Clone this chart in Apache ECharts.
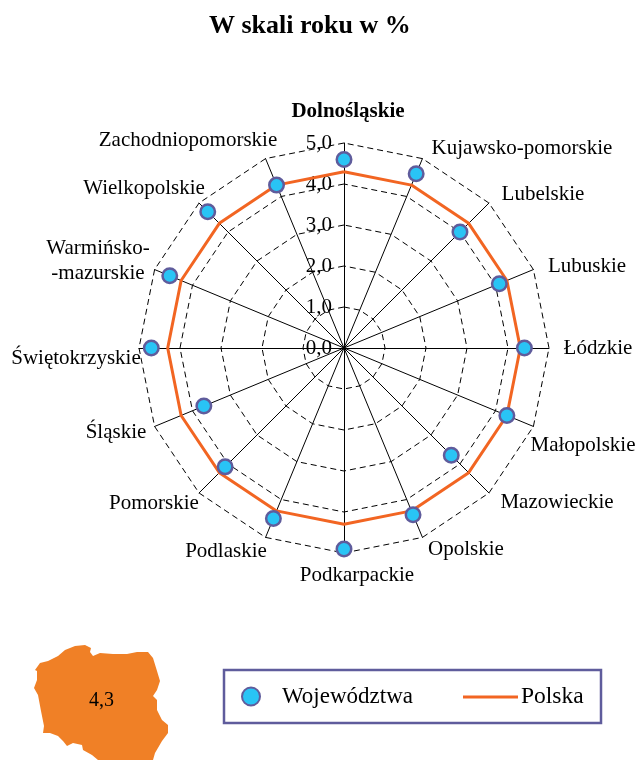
<!DOCTYPE html>
<html><head><meta charset="utf-8">
<style>html,body{margin:0;padding:0;background:#fff}#c{width:639px;height:760px}</style>
<script src="https://cdn.jsdelivr.net/npm/echarts@6/dist/echarts.min.js"></script>
</head><body><div id="c"></div>
<script>
var categories=['Dolnośląskie','Kujawsko-pomorskie','Lubelskie','Lubuskie','Łódzkie','Małopolskie','Mazowieckie','Opolskie','Podkarpackie','Podlaskie','Pomorskie','Śląskie','Świętokrzyskie','Warmińsko-\n-mazurskie','Wielkopolskie','Zachodniopomorskie'];
var wojewodztwa=[4.6,4.6,4.0,4.1,4.4,4.3,3.7,4.4,4.9,4.5,4.1,3.7,4.7,4.6,4.7,4.3];
var polska=[4.3,4.3,4.3,4.3,4.3,4.3,4.3,4.3,4.3,4.3,4.3,4.3,4.3,4.3,4.3,4.3];
var polskaValue='4,3';
var labelPos=[[348,112],[522,148],[543,194],[587,266],[598,348],[583,445],[557,502],[466,549],[357,575],[226,551],[154,503],[116,432],[76,358],[98,261],[144,188],[188,140]];
var poland=[[35,670],[40,663],[48,661],[58,656],[65,650],[75,646],[85,645],[91,648],[90,652],[93,656],[100,653],[113,654],[127,654],[137,652],[148,652],[153,658],[157,671],[160,681],[157,690],[153,696],[157,700],[157,710],[162,720],[168,725],[168,733],[162,741],[155,753],[153,760],[110,760],[105,760],[98,760],[92,755],[83,750],[82,745],[73,743],[67,746],[63,741],[58,736],[50,733],[43,733],[44,726],[41,711],[38,695],[34,688],[37,680],[37,671]];
// ECharts radar runs counter-clockwise: keep first axis on top, reverse the others
function ccw(a){return [a[0]].concat(a.slice(1).reverse());}
var chart=echarts.init(document.getElementById('c'));
var font='"Liberation Serif"';
var graphics=[
 {type:'polygon',shape:{points:poland},style:{fill:'#f08026'},z:1},
 {type:'text',x:101.5,y:701,style:{text:polskaValue,font:'20px '+font,fill:'#000',align:'center',verticalAlign:'middle'},z:2},
 {type:'rect',shape:{x:224,y:670,width:377,height:53},style:{fill:'none',stroke:'#5f5c9c',lineWidth:2.5},z:1}
];
categories.forEach(function(c,i){graphics.push({type:'text',x:labelPos[i][0],y:labelPos[i][1],style:{text:c,font:(i===0?'bold ':'')+'21px '+font,fill:'#000',align:'center',verticalAlign:'middle',lineHeight:25},z:5});});
chart.setOption({
 animation:false,backgroundColor:'#fff',
 title:{text:'W skali roku w %',left:204,top:8,itemGap:0,textStyle:{fontFamily:font,fontWeight:'bold',fontSize:26,color:'#000'}},
 legend:[
  {data:[{name:'Województwa',icon:'circle'}],left:241,top:685,itemWidth:18,itemHeight:18,itemGap:0,padding:0,selectedMode:false,textStyle:{fontFamily:font,fontSize:23,color:'#000',padding:[0,0,0,17]}},
  {data:[{name:'Polska',icon:'rect'}],left:463,top:685,itemWidth:55,itemHeight:3,padding:0,selectedMode:false,textStyle:{fontFamily:font,fontSize:23.5,color:'#000',padding:[0,0,0,-2]}}
 ],
 radar:{center:[344,348],radius:205,startAngle:90,splitNumber:5,shape:'polygon',
  axisName:{show:false},
  indicator:ccw(categories).map(function(c,i){var o={name:c,min:0,max:5};
   if(i===0){o.axisLabel={show:true,formatter:function(v){return v.toFixed(1).replace('.',',');},fontFamily:font,fontSize:21,color:'#000',margin:12};}
   return o;}),
  splitArea:{show:false},
  axisLine:{show:true,lineStyle:{color:'#000',width:1}},
  axisTick:{show:false},
  splitLine:{show:true,lineStyle:{color:'#000',width:1,type:[6,4]}}
 },
 series:[
  {type:'radar',name:'Polska',z:3,symbol:'none',lineStyle:{color:'#f26522',width:3},itemStyle:{color:'#f26522'},data:[{value:ccw(polska),name:'Polska'}]},
  {type:'radar',name:'Województwa',z:4,symbol:'circle',symbolSize:14.5,lineStyle:{width:0,opacity:0},itemStyle:{color:'#29c4f5',borderColor:'#5f5c9c',borderWidth:2.5,opacity:1},data:[{value:ccw(wojewodztwa),name:'Województwa'}]}
 ],
 graphic:graphics
});
</script></body></html>
